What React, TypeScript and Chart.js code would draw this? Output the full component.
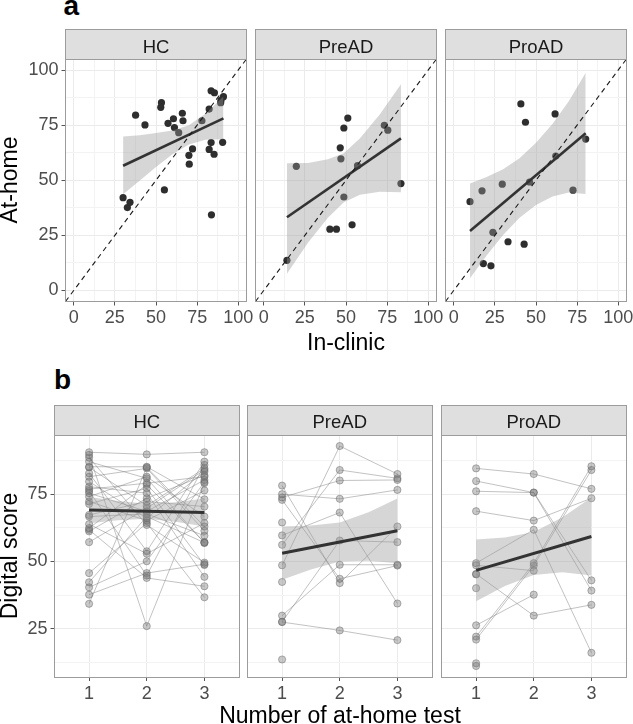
import React, { useEffect, useRef } from "react";
import { Chart, registerables } from "chart.js";

Chart.register(...registerables);

const FONT = "'Liberation Sans', Arial, Helvetica, sans-serif";
const GROUPS = ["HC", "PreAD", "ProAD"];

// ---------- panel a : in-clinic vs at-home ----------
const A_TICKS = [0, 12.5, 25, 37.5, 50, 62.5, 75, 87.5, 100];

const HC_CLINIC = [30.0, 32.6, 34.2, 37.6, 43.3, 53.3, 52.9, 55.1, 57.3, 60.6, 61.2, 63.8, 66.0, 66.4, 72.2, 70.0, 70.2, 77.9, 82.3, 83.5, 85.5, 83.5, 82.3, 85.3, 83.7, 90.5, 89.3, 91.0, 89.5];
const HC_HOME = [42.1, 37.6, 40.0, 79.5, 75.1, 85.2, 83.1, 45.6, 75.8, 77.9, 73.9, 71.6, 80.4, 77.0, 64.2, 61.3, 57.3, 77.0, 82.3, 90.6, 89.7, 67.1, 64.0, 61.8, 34.3, 67.2, 85.2, 87.9, 86.4];
const PRE_CLINIC = [14.1, 19.8, 40.2, 44.2, 46.5, 46.9, 48.7, 51.1, 48.7, 53.7, 73.3, 75.4, 83.4, 57.0];
const PRE_HOME = [13.7, 56.3, 27.8, 27.8, 64.7, 59.7, 73.7, 78.2, 42.4, 29.8, 74.9, 72.7, 48.5, 56.6];
const PRO_CLINIC = [9.9, 17.2, 18.0, 22.6, 23.8, 29.5, 33.0, 40.8, 42.8, 43.6, 46.1, 61.6, 72.5, 80.2, 62.0];
const PRO_HOME = [40.3, 45.2, 12.2, 11.2, 26.4, 48.2, 22.1, 84.6, 21.0, 76.3, 49.2, 80.1, 45.5, 68.7, 61.0];

const HC_A_FIT_X = [30, 91];
const HC_A_FIT_Y = [56.6, 78.1];
const HC_A_BAND_X = [30, 40, 50, 60, 70, 80, 91];
const HC_A_BAND_HI = [69.8, 70.4, 71.4, 72.6, 75.0, 80.2, 88.0];
const HC_A_BAND_LO = [43.6, 49.8, 56.0, 61.8, 66.2, 68.4, 68.6];

const PRE_A_FIT_X = [14.1, 83.4];
const PRE_A_FIT_Y = [33.2, 69.0];
const PRE_A_BAND_X = [14.1, 27, 39, 48.7, 58.5, 70.5, 83.4];
const PRE_A_BAND_HI = [57.7, 57.8, 59.5, 62.3, 69.0, 79.8, 93.5];
const PRE_A_BAND_LO = [7.6, 21.8, 33.0, 40.0, 43.4, 44.8, 44.6];

const PRO_A_FIT_X = [9.9, 80.2];
const PRO_A_FIT_Y = [27.0, 71.3];
const PRO_A_BAND_X = [9.9, 20, 30, 40, 50, 60, 70, 80.2];
const PRO_A_BAND_HI = [48.5, 51.5, 55.0, 60.0, 67.0, 75.5, 86.0, 98.8];
const PRO_A_BAND_LO = [5.5, 15.9, 25.2, 33.0, 38.8, 42.6, 44.4, 43.8];

// ---------- panel b : score over repeated at-home tests ----------
const B_TESTS = [1, 2, 3];
const B_Y_TICKS = [12.5, 25, 37.5, 50, 62.5, 75, 87.5];

const HC_T1 = [90.6, 89.6, 88.6, 87.1, 85.2, 85.0, 82.8, 81.5, 79.7, 77.8, 76.9, 76.2, 75.4, 74.1, 72.3, 71.4, 67.3, 66.7, 63.9, 62.4, 61.8, 61.2, 57.2, 45.7, 42.3, 40.4, 37.7, 34.3];
const HC_T2 = [89.8, 26.0, 63.6, 80.9, 85.2, 70.7, 53.8, 84.6, 66.1, 75.4, 79.1, 44.8, 68.6, 81.5, 65.2, 77.2, 72.3, 67.7, 52.9, 78.5, 43.9, 73.5, 69.8, 64.3, 66.7, 50.1, 45.7, 85.0];
const HC_T3 = [90.6, 79.1, 49.6, 56.9, 73.1, 84.6, 87.1, 61.4, 83.4, 44.3, 81.5, 85.9, 80.3, 66.7, 76.4, 48.7, 70.4, 59.6, 64.3, 57.2, 40.8, 82.0, 84.0, 36.7, 57.0, 79.5, 49.0, 63.0];

const PRE_T1 = [27.5, 75.0, 73.8, 56.2, 48.6, 59.7, 78.2, 72.9, 29.9, 27.6, 42.4, 64.5, 13.6];
const PRE_T2 = [24.4, 73.3, 80.1, 84.0, 92.9, 68.2, 42.0, 43.6, 48.8, 57.8, null, null, null];
const PRE_T3 = [20.8, 76.6, 80.3, 80.9, 82.5, 34.4, 63.0, 48.5, 48.8, 57.2, null, null, null];

const PRO_T1 = [84.6, 79.9, 76.1, 68.7, 49.4, 48.6, 45.4, 22.1, 21.0, 26.3, 45.2, 40.1, 12.2, 11.2];
const PRO_T2 = [82.5, 75.6, 75.6, 65.2, 61.8, 46.6, 29.9, 49.4, 48.5, 37.7, null, null, null, null];
const PRO_T3 = [77.0, 43.0, 39.2, 73.5, 16.1, null, 33.9, 85.4, 84.0, null, null, null, null, null];

const B_FIT_X = [1, 3];
const HC_B_FIT_Y = [69.1, 68.2];
const PRE_B_FIT_Y = [53.1, 61.4];
const PRO_B_FIT_Y = [46.7, 59.3];
const B_BAND_X = [1, 1.5, 2, 2.5, 3];
const HC_B_BAND_HI = [74.0, 72.5, 71.5, 72.0, 73.4];
const HC_B_BAND_LO = [64.2, 65.3, 65.9, 64.8, 63.0];
const PRE_B_BAND_HI = [63.0, 63.4, 64.5, 68.3, 73.4];
const PRE_B_BAND_LO = [43.2, 47.0, 50.0, 50.3, 49.4];
const PRO_B_BAND_HI = [58.2, 58.9, 61.0, 66.4, 73.8];
const PRO_B_BAND_LO = [35.2, 40.9, 45.0, 46.0, 44.8];

// ---------- helpers ----------
const xy = (xs: number[], ys: number[]) => xs.map((x, i) => ({ x, y: ys[i] }));
const BAND_FILL = "rgba(153,153,153,0.4)";

function bandAndFit(fx: number[], fy: number[], bx: number[], hi: number[], lo: number[], fitWidth: number) {
  return [
    { data: xy(fx, fy), showLine: true, borderColor: "#333333", borderWidth: fitWidth, pointRadius: 0, fill: false, order: 2 },
    { data: xy(bx, hi), showLine: true, borderWidth: 0, borderColor: "rgba(0,0,0,0)", pointRadius: 0, fill: false, order: 5 },
    { data: xy(bx, lo), showLine: true, borderWidth: 0, borderColor: "rgba(0,0,0,0)", pointRadius: 0, fill: "-1", backgroundColor: BAND_FILL, order: 5 },
  ];
}

function topDatasets(cx: number[], hy: number[], fx: number[], fy: number[], bx: number[], hi: number[], lo: number[]) {
  return [
    { data: xy([-5, 105], [-5, 105]), showLine: true, borderColor: "#1a1a1a", borderWidth: 1.1, borderDash: [5, 4], pointRadius: 0, fill: false, order: 1 },
    ...bandAndFit(fx, fy, bx, hi, lo, 2.6),
    { data: xy(cx, hy), showLine: false, pointRadius: 3.6, pointBackgroundColor: "#2e2e2e", pointBorderWidth: 0, order: 10 },
  ];
}

function bottomDatasets(t1: (number | null)[], t2: (number | null)[], t3: (number | null)[], fy: number[], hi: number[], lo: number[]) {
  const subjects = t1.map((_, i) => {
    const vals = [t1[i], t2[i], t3[i]];
    const data = B_TESTS.map((t, k) => (vals[k] == null ? null : { x: t, y: vals[k] as number })).filter(Boolean);
    return {
      data,
      showLine: true,
      borderColor: "rgba(110,110,110,0.42)",
      borderWidth: 1,
      pointRadius: 3.6,
      pointBackgroundColor: "rgba(120,120,120,0.4)",
      pointBorderColor: "rgba(95,95,95,0.45)",
      pointBorderWidth: 1,
      fill: false,
      order: 10,
    };
  });
  return [...bandAndFit(B_FIT_X, fy, B_BAND_X, hi, lo, 3), ...subjects];
}

type Spec = {
  title: string;
  col: number;
  stripTop: number;
  stripH: number;
  areaLeft: number;
  areaW: number;
  areaH: number;
  xMin: number;
  xMax: number;
  yMin: number;
  yMax: number;
  xTicks: number[];
  yTicks: number[];
  xMajor: (v: number) => boolean;
  yMajor: (v: number) => boolean;
  datasets: any[];
};

const isA = (v: number) => Math.abs(v % 25) < 1e-6;
const isAll = (_v: number) => true;

const TOP = { stripTop: 29.5, stripH: 29.5, areaH: 242.5, areaW: 181, lefts: [65.5, 255.5, 445.5] };
const BOT = { stripTop: 405, stripH: 30, areaH: 242, areaW: 184.5, lefts: [54.5, 247.5, 441.5] };

const TOP_DATA = [
  topDatasets(HC_CLINIC, HC_HOME, HC_A_FIT_X, HC_A_FIT_Y, HC_A_BAND_X, HC_A_BAND_HI, HC_A_BAND_LO),
  topDatasets(PRE_CLINIC, PRE_HOME, PRE_A_FIT_X, PRE_A_FIT_Y, PRE_A_BAND_X, PRE_A_BAND_HI, PRE_A_BAND_LO),
  topDatasets(PRO_CLINIC, PRO_HOME, PRO_A_FIT_X, PRO_A_FIT_Y, PRO_A_BAND_X, PRO_A_BAND_HI, PRO_A_BAND_LO),
];
const BOT_DATA = [
  bottomDatasets(HC_T1, HC_T2, HC_T3, HC_B_FIT_Y, HC_B_BAND_HI, HC_B_BAND_LO),
  bottomDatasets(PRE_T1, PRE_T2, PRE_T3, PRE_B_FIT_Y, PRE_B_BAND_HI, PRE_B_BAND_LO),
  bottomDatasets(PRO_T1, PRO_T2, PRO_T3, PRO_B_FIT_Y, PRO_B_BAND_HI, PRO_B_BAND_LO),
];

const SPECS: Spec[] = [
  ...GROUPS.map((g, i) => ({
    title: g, col: i, stripTop: TOP.stripTop, stripH: TOP.stripH, areaLeft: TOP.lefts[i], areaW: TOP.areaW, areaH: TOP.areaH,
    xMin: -5, xMax: 105, yMin: -5, yMax: 105, xTicks: A_TICKS, yTicks: A_TICKS, xMajor: isA, yMajor: isA, datasets: TOP_DATA[i],
  })),
  ...GROUPS.map((g, i) => ({
    title: g, col: i, stripTop: BOT.stripTop, stripH: BOT.stripH, areaLeft: BOT.lefts[i], areaW: BOT.areaW, areaH: BOT.areaH,
    xMin: 0.4, xMax: 3.6, yMin: 7.1, yMax: 97.0, xTicks: B_TESTS, yTicks: B_Y_TICKS, xMajor: isAll, yMajor: isA, datasets: BOT_DATA[i],
  })),
];

const snap = (v: number) => Math.round(v - 0.5) + 0.5;

function Panel({ spec }: { spec: Spec }) {
  const ref = useRef<HTMLCanvasElement | null>(null);
  const cl = spec.col === 0 ? 0 : Math.floor(spec.areaLeft) - 14;
  const ct = Math.floor(spec.stripTop) - 2;
  const L = spec.areaLeft - cl;
  const padTop = spec.stripTop + spec.stripH - ct;
  const width = Math.ceil(L + spec.areaW + 14);
  const height = Math.ceil(padTop + spec.areaH + 34);
  const R = width - L - spec.areaW;
  const B = height - padTop - spec.areaH;
  const stripY = spec.stripTop - ct;

  useEffect(() => {
    const canvas = ref.current;
    if (!canvas) return;
    const decor = {
      id: "decor",
      beforeDraw(chart: any) {
        const { ctx, chartArea: a } = chart;
        ctx.save();
        ctx.fillStyle = "#dfdfdf";
        ctx.fillRect(a.left, stripY, a.right - a.left, a.top - stripY);
        ctx.fillStyle = "#1a1a1a";
        ctx.font = `18.5px ${FONT}`;
        ctx.textAlign = "center";
        ctx.textBaseline = "alphabetic";
        ctx.fillText(spec.title, (a.left + a.right) / 2, stripY + 23.2);
        ctx.restore();
      },
      afterDraw(chart: any) {
        const { ctx, chartArea: a } = chart;
        ctx.save();
        ctx.strokeStyle = "#9c9c9c";
        ctx.lineWidth = 1;
        const l = snap(a.left), r = snap(a.right), t = snap(stripY), m = snap(a.top), b = snap(a.bottom);
        ctx.strokeRect(l, t, r - l, b - t);
        ctx.beginPath();
        ctx.moveTo(l, m);
        ctx.lineTo(r, m);
        ctx.stroke();
        ctx.restore();
      },
    };
    const gridColor = (major: (v: number) => boolean) => (c: any) => (c.tick && major(c.tick.value) ? "#ebebeb" : "#f3f3f3");
    const tickColor = (major: (v: number) => boolean) => (c: any) => (c.tick && major(c.tick.value) ? "#555555" : "rgba(0,0,0,0)");
    const chart = new Chart(canvas, {
      type: "line",
      data: { datasets: spec.datasets },
      options: {
        responsive: false,
        animation: false,
        events: [],
        layout: { padding: { top: padTop, left: 0, right: R, bottom: 0 } },
        plugins: { legend: { display: false }, tooltip: { enabled: false }, title: { display: false } },
        elements: { line: { tension: 0 } },
        scales: {
          x: {
            type: "linear",
            min: spec.xMin,
            max: spec.xMax,
            afterBuildTicks: (s: any) => { s.ticks = spec.xTicks.map((v) => ({ value: v })); },
            afterFit: (s: any) => { s.height = B; s.paddingLeft = 0; s.paddingRight = 0; },
            ticks: {
              autoSkip: false, maxRotation: 0, minRotation: 0, padding: 2,
              font: { family: FONT, size: 18 }, color: "#4d4d4d",
              callback: (v: any) => (spec.xMajor(Number(v)) ? String(v) : ""),
            },
            grid: { color: gridColor(spec.xMajor), lineWidth: 1, tickColor: tickColor(spec.xMajor), tickLength: 4, tickWidth: 1 },
            border: { display: false },
          },
          y: {
            type: "linear",
            min: spec.yMin,
            max: spec.yMax,
            afterBuildTicks: (s: any) => { s.ticks = spec.yTicks.map((v) => ({ value: v })); },
            afterFit: (s: any) => { s.width = L; s.paddingTop = 0; s.paddingBottom = 0; },
            ticks: {
              display: spec.col === 0, autoSkip: false, padding: 3,
              font: { family: FONT, size: 18 }, color: "#4d4d4d",
              callback: (v: any) => (spec.yMajor(Number(v)) ? String(v) : ""),
            },
            grid: { color: gridColor(spec.yMajor), lineWidth: 1, tickColor: tickColor(spec.yMajor), tickLength: 4, tickWidth: 1, drawTicks: spec.col === 0 },
            border: { display: false },
          },
        },
      } as any,
      plugins: [decor],
    });
    return () => chart.destroy();
  }, []);

  return <canvas ref={ref} width={width} height={height} style={{ position: "absolute", left: cl, top: ct, width, height }} />;
}

const textBase: React.CSSProperties = { position: "absolute", fontFamily: FONT, color: "#000", whiteSpace: "nowrap" };

export default function App() {
  return (
    <div style={{ position: "absolute", left: 0, top: 0, width: 633, height: 724, background: "#fff", overflow: "hidden" }}>
      {SPECS.map((s, i) => <Panel key={i} spec={s} />)}
      <div style={{ ...textBase, left: 63.5, top: -8.2, fontSize: 28, lineHeight: "28px", fontWeight: "bold" }}>a</div>
      <div style={{ ...textBase, left: 54, top: 366.3, fontSize: 28, lineHeight: "28px", fontWeight: "bold" }}>b</div>
      <div style={{ ...textBase, left: 8.5, top: 180.3, fontSize: 23, lineHeight: "23px", transform: "translate(-50%,-50%) rotate(-90deg)" }}>At-home</div>
      <div style={{ ...textBase, left: 8.5, top: 556, fontSize: 23, lineHeight: "23px", transform: "translate(-50%,-50%) rotate(-90deg)" }}>Digital score</div>
      <div style={{ ...textBase, left: 196, width: 300, textAlign: "center", top: 330.5, fontSize: 23, lineHeight: "23px" }}>In-clinic</div>
      <div style={{ ...textBase, left: 190, width: 300, textAlign: "center", top: 703.5, fontSize: 23, lineHeight: "23px" }}>Number of at-home test</div>
    </div>
  );
}
